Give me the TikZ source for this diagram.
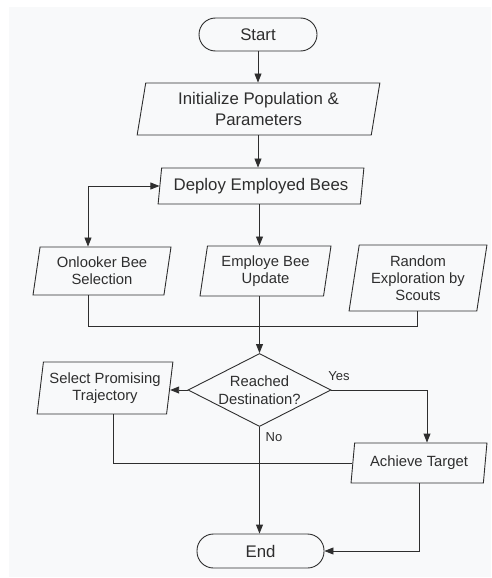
\documentclass[tikz,border=0pt]{standalone}
\usepackage{fontspec}
\setmainfont{Liberation Sans}
\usetikzlibrary{shapes.geometric,arrows.meta}
\definecolor{bggray}{HTML}{F8F9FA}
\definecolor{ink}{HTML}{2E2E2E}
\begin{document}
\begin{tikzpicture}[x=1pt, y=-1pt,
    every node/.style={text=ink},
    bigtxt/.style={font=\fontsize{16.8}{20.7}\selectfont},
    smalltxt/.style={font=\fontsize{14.8}{17}\selectfont},
    terminal/.style={draw=ink, line width=0.9pt, rounded corners=16.5pt, bigtxt},
    iobox/.style={draw=ink, line width=0.9pt, trapezium, trapezium left angle=80,
        trapezium right angle=100, trapezium stretches=true, inner sep=1pt, align=center},
    decision/.style={draw=ink, line width=0.9pt, diamond, aspect=2, inner sep=0pt,
        align=center, font=\fontsize{14.8}{17.5}\selectfont},
    line/.style={draw=ink, line width=0.9pt},
    arr/.style={line, -{Triangle[length=9pt,width=7pt]}},
    arrs/.style={line, {Triangle[length=9pt,width=7pt]}-{Triangle[length=9pt,width=7pt]}},
    lbl/.style={font=\fontsize{13}{15}\selectfont}]
    % background
    \fill[bggray] (9,7) rectangle (491,577);
    \useasboundingbox (0,0) rectangle (491,578);
    %
    \node[terminal, minimum width=118, minimum height=33] (start) at (258,34.5) {Start};
    \node[iobox, bigtxt, minimum width=243, minimum height=52] (init) at (258.5,109)
        {Initialize Population \&\\Parameters};
    \node[iobox, bigtxt, minimum width=206, minimum height=36] (deploy) at (261,186)
        {Deploy Employed Bees};
    %
    \node[iobox, smalltxt, minimum width=138, minimum height=48] (onlooker) at (102,271)
        {Onlooker Bee\\Selection};
    \node[iobox, smalltxt, minimum width=131, minimum height=50] (employe) at (265.5,271)
        {Employe Bee\\Update};
    \node[iobox, smalltxt, minimum width=138, minimum height=66] (random) at (418,278)
        {Random\\Exploration by\\Scouts};
    %
    \node[decision, minimum width=143, minimum height=73] (reach) at (259.5,390)
        {Reached\\Destination?};
    \node[iobox, smalltxt, minimum width=136, minimum height=52] (select) at (105,388)
        {Select Promising\\Trajectory};
    \node[iobox, smalltxt, minimum width=136, minimum height=40] (achieve) at (419,463)
        {Achieve Target};
    \node[terminal, minimum width=127, minimum height=34] (end) at (260.5,551) {End};
    %
    \coordinate (lx) at (88,326);
    \coordinate (rx) at (417,326);
    \coordinate (ax) at (427,388);
    \coordinate (sx) at (113,464);
    %
    \draw[arr] (start.south) -- (start.south |- init.north);
    \draw[arr] (start.south |- init.south) -- (start.south |- deploy.north);
    \draw[arr] (reach.north |- deploy.south) -- (reach.north |- employe.north);
    \draw[arrs] (deploy.west) -| (lx |- onlooker.north);
    %
    \draw[line] (lx |- onlooker.south) -- (lx) -- (rx) -- (rx |- random.south);
    \draw[arr] (reach.north |- employe.south) -- (reach.north);
    %
    \draw[arr] (reach.west) -- (reach.west -| select.east);
    \draw[arr] (reach.east) -| (ax |- achieve.north);
    \node[lbl] (yes) at (339,376) {Yes};
    \draw[arr] (reach.south) -- (reach.south |- end.north);
    \node[lbl] (no) at (274,437) {No};
    \draw[line] (sx |- select.south) |- (achieve.west);
    \draw[arr] (achieve.south) |- (end.east);
\end{tikzpicture}
\end{document}
